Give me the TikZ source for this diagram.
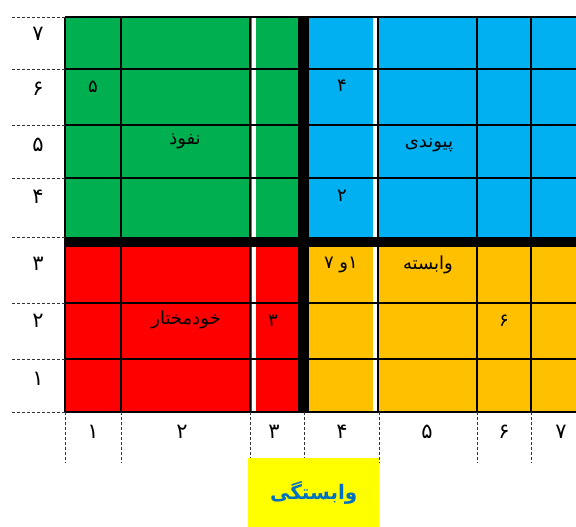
\documentclass[tikz,border=0pt]{standalone}
\usepackage{fontspec}
\usepackage{xcolor}
\usepackage{tikz}
\TeXXeTstate=1
\newfontfamily\fafont[Script=Arabic]{DejaVu Sans}
\definecolor{nofuzgreen}{HTML}{00B050}
\definecolor{peyvandblue}{HTML}{00B0F0}
\definecolor{khodred}{HTML}{FF0000}
\definecolor{vabastehorange}{HTML}{FFC000}
\definecolor{titleyellow}{HTML}{FFFF00}
\definecolor{titleblue}{HTML}{0070C0}
\newcommand{\fa}[1]{\fafont\beginR #1\endR}

\begin{document}
\begin{tikzpicture}[x=1pt, y=-1pt,
  axis/.style={font=\fafont\fontsize{21}{21}\selectfont, inner sep=0pt},
  cell/.style={font=\fafont\fontsize{18}{18}\selectfont, inner sep=0pt},
  gridline/.style={line width=2.4pt},
  tick/.style={densely dashed, line width=0.7pt, black!80}]
\useasboundingbox (0,0) rectangle (576,527);
% quadrants
\fill[nofuzgreen] (65,17) rectangle (304,242);
\fill[peyvandblue] (304,17) rectangle (580,242);
\fill[khodred] (65,242) rectangle (304,412);
\fill[vabastehorange] (304,242) rectangle (580,412);
\fill[white] (251.5,17) rectangle (256,412);
\fill[white] (373,17) rectangle (377,412);
% grid
\foreach \xx in {65,121,250,378,477,531}
  \draw[gridline] (\xx,17) -- (\xx,412);
\foreach \yy in {17,69,125,178,303,359,412}
  \draw[gridline] (65,\yy) -- (580,\yy);
\draw[line width=11pt] (303.5,17) -- (303.5,412);
\draw[line width=10pt] (65,242) -- (580,242);
% axes
\foreach \yy in {17,69,125,178,237,303,359,412}
  \draw[tick] (12,\yy) -- (65,\yy);
\foreach \xx in {65,121,250,304,379,477,531}
  \draw[tick] (\xx,412) -- (\xx,463);
\foreach \d/\yy [count=\i] in {۷/34,۶/89,۵/145,۴/197,۳/264,۲/321,۱/379}
  \node[axis] (y\i) at (38,\yy) {\d};
\foreach \d/\xx [count=\i] in {۱/93,۲/182,۳/274,۴/342,۵/427,۶/504,۷/561}
  \node[axis] (x\i) at (\xx,432) {\d};
% cell texts
\node[cell] (c5) at (93,87) {۵};
\node[cell] (nofuz) at (185,141) {\fa{نفوذ}};
\node[cell] (c4) at (342,86) {۴};
\node[cell] (peyvandi) at (429,145) {\fa{پیوندی}};
\node[cell] (c2) at (342,196) {۲};
\node[cell] (c17) at (341,265) {\fa{۱و ۷}};
\node[cell] (vabasteh) at (428,265) {\fa{وابسته}};
\node[cell] (khod) at (186,320) {\fa{خودمختار}};
\node[cell] (c3) at (273,321) {۳};
\node[cell] (c6) at (504,321) {۶};
% title
\node[fill=titleyellow, minimum width=131pt, minimum height=69pt, inner sep=0pt,
  anchor=north west, text=titleblue,
  font=\fafont\bfseries\fontsize{20}{20}\selectfont] (title) at (248,458) {\fa{وابستگی}};
\end{tikzpicture}
\end{document}
